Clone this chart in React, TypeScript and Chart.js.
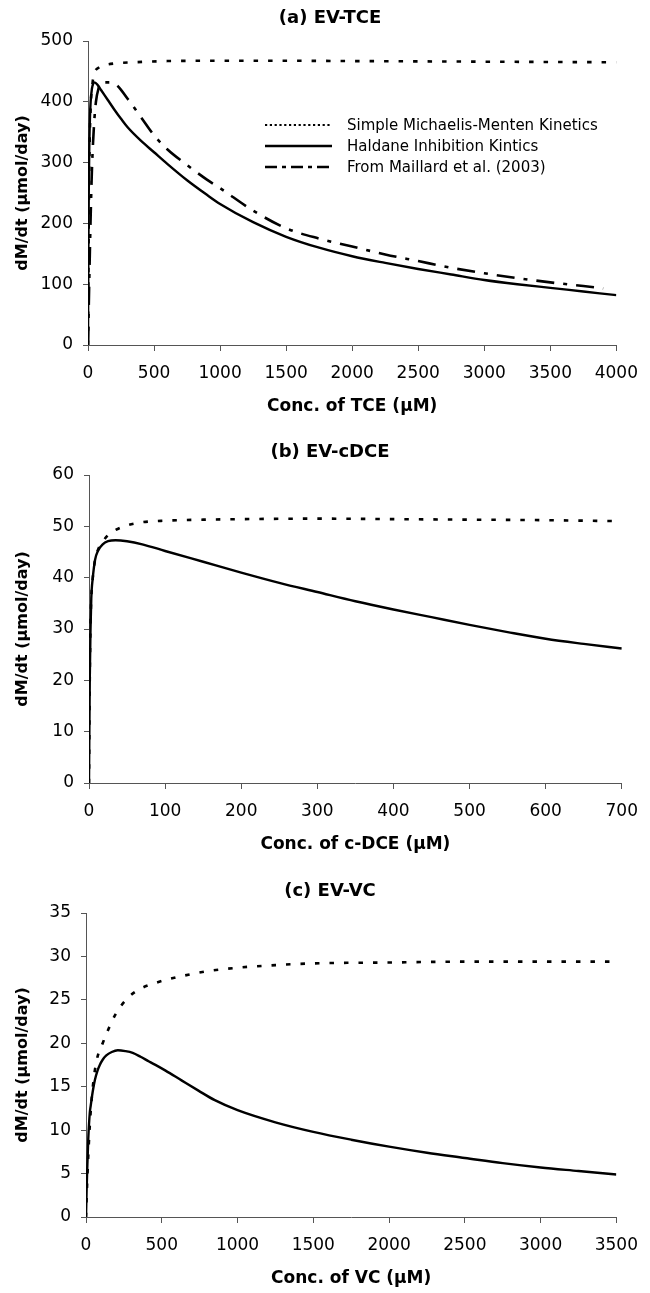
import { useEffect, useRef } from "react";
import { Chart, registerables } from "chart.js";

Chart.register(...registerables);

// ---------- (a) EV-TCE ----------
const tceMmX = [0, 5, 10, 20, 35, 50, 80, 120, 200, 350, 600, 1000, 1500, 2000, 2500, 3000, 3500, 4000];
const tceMmY = [0, 180, 300, 390, 432, 448, 456, 460, 463, 465, 467, 467.5, 467.5, 467, 466.5, 466, 465.5, 465];

const tceHalX = [0, 3, 6, 10, 15, 20, 30, 40, 50, 75, 100, 150, 200, 250, 300, 400, 500, 600, 750, 900, 1000, 1250, 1500, 1750, 2000, 2250, 2500, 2750, 3000, 3250, 3500, 3750, 4000];
const tceHalY = [0, 160, 260, 330, 375, 400, 422, 430, 432, 427, 419, 403, 387, 372, 358, 336, 317, 298, 271, 247, 232, 202, 178, 160, 146, 135, 125, 116, 107, 100, 94, 88, 82];

const tceMaiX = [0, 10, 20, 30, 45, 60, 80, 100, 130, 170, 220, 300, 400, 500, 600, 750, 900, 1000, 1250, 1500, 1750, 2000, 2250, 2500, 2750, 3000, 3250, 3500, 3750, 3900];
const tceMaiY = [0, 110, 210, 290, 360, 400, 422, 430, 432, 432, 427, 405, 375, 345, 322, 296, 272, 258, 221, 192, 175, 162, 149, 138, 127, 118, 110, 103, 97, 93];

// ---------- (b) EV-cDCE ----------
const dceMmX = [0, 1, 2, 3, 5, 8, 12, 18, 25, 35, 50, 70, 100, 150, 200, 300, 400, 500, 600, 700];
const dceMmY = [0, 20, 31, 36, 40, 43.5, 45.5, 47, 48.3, 49.3, 50.2, 50.8, 51.1, 51.3, 51.4, 51.5, 51.4, 51.3, 51.2, 51];

const dceHalX = [0, 1, 2, 3, 5, 8, 12, 18, 25, 35, 50, 70, 100, 150, 200, 250, 300, 350, 400, 450, 500, 550, 600, 650, 700];
const dceHalY = [0, 20, 30, 36, 40, 43.5, 45.3, 46.5, 47.1, 47.3, 47.1, 46.5, 45.2, 43.1, 41, 39, 37.2, 35.4, 33.8, 32.3, 30.8, 29.4, 28.1, 27.1, 26.2];

// ---------- (c) EV-VC ----------
const vcMmX = [0, 10, 25, 45, 70, 110, 145, 200, 275, 350, 450, 550, 650, 800, 1000, 1250, 1500, 2000, 2500, 3000, 3500];
const vcMmY = [0, 5, 10.5, 15, 18, 20, 21.5, 23.5, 25.2, 26.2, 26.9, 27.4, 27.8, 28.3, 28.7, 29.0, 29.2, 29.3, 29.4, 29.4, 29.4];

const vcHalX = [0, 4, 8, 15, 25, 31, 45, 59, 75, 91, 110, 134, 170, 210, 260, 308, 360, 416, 470, 525, 633, 742, 850, 1000, 1250, 1500, 1750, 2000, 2250, 2500, 2750, 3000, 3250, 3500];
const vcHalY = [0, 3, 5.5, 9, 12, 12.8, 14.5, 15.8, 16.8, 17.5, 18.1, 18.6, 19.0, 19.2, 19.1, 18.9, 18.45, 17.9, 17.4, 16.85, 15.7, 14.55, 13.45, 12.3, 10.9, 9.8, 8.9, 8.1, 7.4, 6.8, 6.2, 5.7, 5.3, 4.9];

// ---------- labels ----------
const legendLabels = [
  "Simple Michaelis-Menten Kinetics",
  "Haldane Inhibition Kintics",
  "From Maillard et al. (2003)",
];
const yTitle = "dM/dt (\u00b5mol/day)";

const FONT = "'DejaVu Sans', 'Liberation Sans', Arial, sans-serif";
const INK = "#000";
const AXIS = "#555";

const DOT = [4.5, 10];
const DASHDOT = [18, 9, 4, 9];

type Series = { x: number[]; y: number[]; dash: number[]; width: number };

type Panel = {
  top: number; // canvas top on page
  height: number; // canvas height
  left: number; // plot area left (canvas px)
  right: number; // plot area right
  areaTop: number;
  areaBottom: number;
  title: string;
  titleY: number;
  xTitle: string;
  xMax: number;
  xStep: number;
  yMax: number;
  yStep: number;
  series: Series[];
  legend: boolean;
};

const panels: Panel[] = [
  {
    top: 0, height: 420, left: 88, right: 624, areaTop: 41, areaBottom: 345,
    title: "(a) EV-TCE", titleY: 18, xTitle: "Conc. of TCE (\u00b5M)",
    xMax: 4000, xStep: 500, yMax: 500, yStep: 100, legend: true,
    series: [
      { x: tceMmX, y: tceMmY, dash: DOT, width: 2.6 },
      { x: tceHalX, y: tceHalY, dash: [], width: 2.4 },
      { x: tceMaiX, y: tceMaiY, dash: DASHDOT, width: 2.6 },
    ],
  },
  {
    top: 430, height: 428, left: 89, right: 628, areaTop: 45, areaBottom: 353,
    title: "(b) EV-cDCE", titleY: 22, xTitle: "Conc. of c-DCE (\u00b5M)",
    xMax: 700, xStep: 100, yMax: 60, yStep: 10, legend: false,
    series: [
      { x: dceMmX, y: dceMmY, dash: DOT, width: 2.6 },
      { x: dceHalX, y: dceHalY, dash: [], width: 2.4 },
    ],
  },
  {
    top: 868, height: 425, left: 86, right: 624, areaTop: 45, areaBottom: 349,
    title: "(c) EV-VC", titleY: 23, xTitle: "Conc. of VC (\u00b5M)",
    xMax: 3500, xStep: 500, yMax: 35, yStep: 5, legend: false,
    series: [
      { x: vcMmX, y: vcMmY, dash: DOT, width: 2.6 },
      { x: vcHalX, y: vcHalY, dash: [], width: 2.4 },
    ],
  },
];

const WIDTH = 650;

function PanelChart({ p }: { p: Panel }) {
  const ref = useRef<HTMLCanvasElement | null>(null);

  useEffect(() => {
    const canvas = ref.current;
    if (!canvas) return;

    const tickFont = { family: FONT, size: 17 };
    const xTitleFont = { family: FONT, size: 17, weight: "bold" as const };
    const yTitleFont = { family: FONT, size: 16, weight: "bold" as const };
    const xTitleLH = 17 * 1.2;
    const yTitleLH = 16 * 1.2;
    const plain = (v: any) => String(v);

    // Panel heading and (for the first panel) the legend block.
    const decor = {
      id: "decor",
      afterDraw(chart: Chart) {
        const ctx = chart.ctx;
        ctx.save();
        ctx.fillStyle = INK;
        ctx.font = `bold 18px ${FONT}`;
        ctx.textAlign = "center";
        ctx.textBaseline = "middle";
        ctx.fillText(p.title, 330, p.titleY);

        if (p.legend) {
          const rows = [125, 146, 167];
          const styles = [
            { dash: [2.2, 2.6], width: 2.2 },
            { dash: [], width: 2.4 },
            { dash: [12, 5, 4, 5], width: 2.6 },
          ];
          ctx.font = `15px ${FONT}`;
          ctx.textAlign = "left";
          legendLabels.forEach((label, i) => {
            ctx.strokeStyle = INK;
            ctx.lineWidth = styles[i].width;
            ctx.setLineDash(styles[i].dash);
            ctx.beginPath();
            ctx.moveTo(265, rows[i]);
            ctx.lineTo(332, rows[i]);
            ctx.stroke();
            ctx.setLineDash([]);
            ctx.fillText(label, 347, rows[i] + 1);
          });
        }
        ctx.restore();
      },
    };

    const xBandHeight = p.height - p.areaBottom;

    const chart = new Chart(canvas, {
      type: "line",
      data: {
        datasets: p.series.map((s) => ({
          data: s.x.map((x, i) => ({ x, y: s.y[i] })),
          borderColor: INK,
          borderWidth: s.width,
          borderDash: s.dash,
          borderCapStyle: "butt",
          pointRadius: 0,
          fill: false,
          cubicInterpolationMode: "monotone",
        })),
      },
      options: {
        responsive: false,
        maintainAspectRatio: false,
        animation: false,
        events: [],
        layout: {
          padding: { left: 0, right: WIDTH - p.right, top: p.areaTop, bottom: 0 },
        },
        plugins: {
          legend: { display: false },
          tooltip: { enabled: false },
          title: { display: false },
        },
        scales: {
          x: {
            type: "linear",
            min: 0,
            max: p.xMax,
            ticks: {
              stepSize: p.xStep,
              font: tickFont,
              color: INK,
              padding: 12,
              maxRotation: 0,
              autoSkip: false,
              callback: plain,
            },
            grid: {
              display: true,
              drawOnChartArea: false,
              drawTicks: true,
              tickLength: 6,
              color: AXIS,
            },
            border: { display: true, color: AXIS, width: 1 },
            title: {
              display: true,
              text: p.xTitle,
              font: xTitleFont,
              color: INK,
              padding: { top: 0, bottom: xBandHeight - 62 - xTitleLH / 2 },
            },
            afterFit: (scale: any) => {
              scale.height = xBandHeight;
            },
          },
          y: {
            type: "linear",
            min: 0,
            max: p.yMax,
            ticks: {
              stepSize: p.yStep,
              font: tickFont,
              color: INK,
              padding: 10,
              callback: plain,
            },
            grid: {
              display: true,
              drawOnChartArea: false,
              drawTicks: true,
              tickLength: 5,
              color: AXIS,
            },
            border: { display: true, color: AXIS, width: 1 },
            title: {
              display: true,
              text: yTitle,
              font: yTitleFont,
              color: INK,
              padding: { top: 23 - yTitleLH / 2, bottom: 0 },
            },
            afterFit: (scale: any) => {
              scale.width = p.left;
            },
          },
        },
      } as any,
      plugins: [decor],
    });

    return () => chart.destroy();
  }, [p]);

  return (
    <canvas
      ref={ref}
      width={WIDTH}
      height={p.height}
      style={{ position: "absolute", left: 0, top: p.top, width: WIDTH, height: p.height }}
    />
  );
}

export default function App() {
  return (
    <div
      style={{
        position: "absolute",
        left: 0,
        top: 0,
        width: WIDTH,
        height: 1293,
        background: "#fff",
        overflow: "hidden",
      }}
    >
      {panels.map((p) => (
        <PanelChart key={p.title} p={p} />
      ))}
    </div>
  );
}
